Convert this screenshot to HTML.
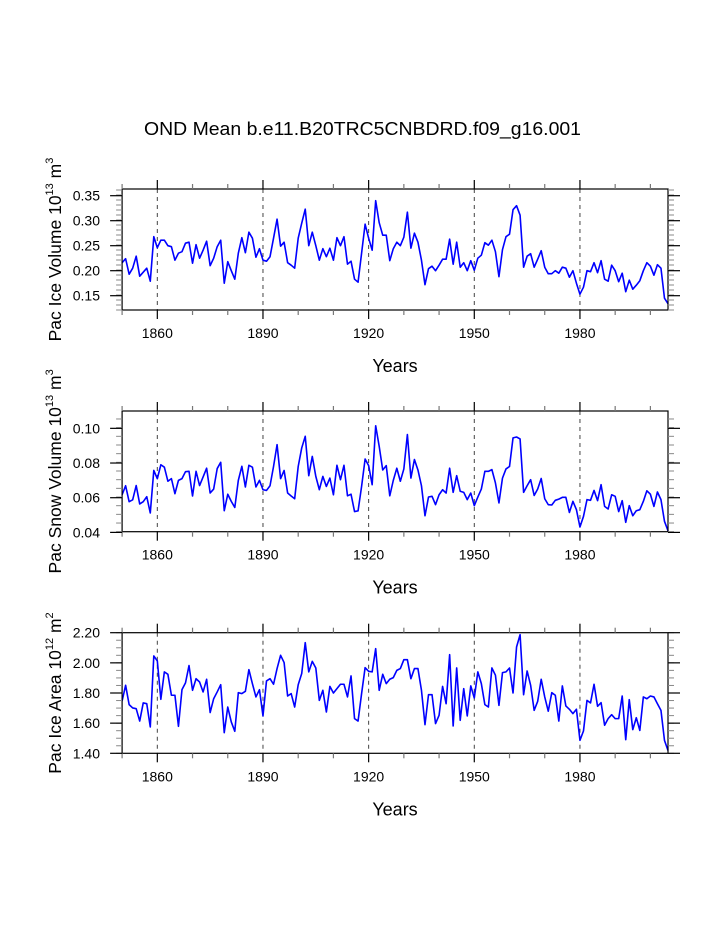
<!DOCTYPE html>
<html><head><meta charset="utf-8"><style>
html,body{margin:0;padding:0;background:#fff;}
svg{display:block;font-family:"Liberation Sans",Arial,sans-serif;}
</style></head><body>
<svg id="chart" width="723" height="935" viewBox="0 0 723 935" xmlns="http://www.w3.org/2000/svg">
<rect width="723" height="935" fill="#fff"/>
<text x="144" y="135" font-size="18.5" textLength="437" lengthAdjust="spacingAndGlyphs">OND Mean b.e11.B20TRC5CNBDRD.f09_g16.001</text>
</svg>
<script>
const startYear = 1850;
const iceVolume = [0.216,0.224,0.193,0.205,0.229,0.189,0.197,0.205,0.179,0.268,0.246,0.261,0.261,0.25,0.248,0.221,0.235,0.238,0.255,0.257,0.215,0.252,0.225,0.241,0.259,0.21,0.225,0.248,0.261,0.175,0.218,0.2,0.183,0.235,0.266,0.236,0.277,0.265,0.227,0.244,0.221,0.219,0.228,0.265,0.303,0.249,0.257,0.216,0.211,0.205,0.265,0.295,0.323,0.25,0.277,0.25,0.221,0.244,0.228,0.245,0.221,0.266,0.25,0.268,0.213,0.219,0.183,0.177,0.235,0.293,0.265,0.241,0.340,0.296,0.271,0.271,0.22,0.244,0.257,0.25,0.267,0.317,0.245,0.275,0.257,0.221,0.172,0.204,0.209,0.2,0.211,0.223,0.223,0.263,0.213,0.257,0.207,0.216,0.2,0.22,0.201,0.225,0.231,0.256,0.251,0.261,0.238,0.188,0.242,0.268,0.273,0.322,0.33,0.311,0.207,0.229,0.234,0.207,0.223,0.24,0.207,0.194,0.194,0.2,0.195,0.207,0.205,0.187,0.2,0.175,0.153,0.167,0.2,0.198,0.216,0.196,0.22,0.183,0.179,0.211,0.2,0.178,0.195,0.158,0.181,0.163,0.171,0.18,0.2,0.216,0.209,0.191,0.212,0.205,0.145,0.134];
const snowVolume = [0.0617,0.0669,0.0577,0.0588,0.067,0.0564,0.0577,0.0606,0.0512,0.0757,0.071,0.079,0.0776,0.0695,0.071,0.0623,0.07,0.071,0.075,0.0752,0.061,0.0752,0.067,0.072,0.077,0.0627,0.065,0.0768,0.0804,0.0525,0.062,0.0579,0.0544,0.07,0.0781,0.0662,0.0787,0.0776,0.0662,0.07,0.0646,0.0642,0.0669,0.078,0.0906,0.071,0.0757,0.0627,0.061,0.0594,0.078,0.0887,0.0954,0.0727,0.0838,0.0723,0.0646,0.0723,0.0665,0.0713,0.0617,0.0787,0.0704,0.0787,0.0611,0.062,0.052,0.0524,0.0665,0.0823,0.0785,0.0675,0.1015,0.0896,0.076,0.0785,0.0611,0.07,0.077,0.0695,0.0766,0.0964,0.0713,0.082,0.076,0.0669,0.0496,0.0604,0.0608,0.056,0.0617,0.0646,0.0627,0.077,0.0631,0.0727,0.0637,0.0631,0.0589,0.0627,0.0554,0.0604,0.065,0.0752,0.0752,0.0762,0.0685,0.057,0.0713,0.0766,0.078,0.0945,0.095,0.0939,0.0631,0.0669,0.0704,0.0613,0.065,0.0711,0.0594,0.056,0.0558,0.0585,0.0592,0.0602,0.0602,0.0515,0.0579,0.0531,0.0431,0.0492,0.0589,0.0585,0.0642,0.0583,0.0675,0.055,0.0535,0.0617,0.0608,0.052,0.0583,0.0458,0.0554,0.0496,0.0525,0.0531,0.0579,0.064,0.062,0.055,0.0633,0.0589,0.0464,0.041];
const iceArea = [1.747,1.851,1.723,1.701,1.696,1.614,1.734,1.729,1.575,2.046,2.013,1.758,1.94,1.924,1.785,1.785,1.579,1.822,1.867,1.982,1.818,1.895,1.873,1.807,1.891,1.67,1.762,1.807,1.855,1.537,1.707,1.608,1.546,1.802,1.796,1.811,1.955,1.862,1.774,1.822,1.648,1.88,1.895,1.858,1.962,2.05,2.002,1.78,1.796,1.707,1.855,1.929,2.134,1.94,2.01,1.966,1.751,1.818,1.674,1.844,1.8,1.829,1.858,1.858,1.774,1.913,1.63,1.614,1.796,1.968,1.944,1.94,2.094,1.818,1.924,1.862,1.891,1.902,1.95,1.962,2.021,2.021,1.895,1.962,1.962,1.818,1.59,1.789,1.789,1.597,1.652,1.844,1.729,2.054,1.581,1.966,1.619,1.829,1.648,1.847,1.767,1.94,1.862,1.723,1.707,1.966,1.918,1.718,1.935,1.94,1.966,1.8,2.105,2.187,1.789,1.946,1.851,1.685,1.745,1.891,1.774,1.679,1.802,1.785,1.614,1.847,1.714,1.692,1.663,1.692,1.486,1.548,1.751,1.734,1.858,1.712,1.736,1.586,1.63,1.656,1.63,1.63,1.78,1.49,1.756,1.557,1.636,1.552,1.774,1.762,1.78,1.774,1.729,1.685,1.486,1.419];
const xTickLabels = [1860,1890,1920,1950,1980];
const iceVolTicks = ["0.15","0.20","0.25","0.30","0.35"];
const snowTicks = ["0.04","0.06","0.08","0.10"];
const areaTicks = ["1.40","1.60","1.80","2.00","2.20"];

const NS = "http://www.w3.org/2000/svg";
const svg = document.getElementById('chart');
const X0 = 122.1, X1 = 668, Y0 = 1850, Y1 = 2005;
function xs(yr){ return X0 + (yr - Y0) * (X1 - X0) / (Y1 - Y0); }
function mk(tag, attrs, parent){ const e = document.createElementNS(NS, tag); for (const k in attrs) e.setAttribute(k, attrs[k]); (parent||svg).appendChild(e); return e; }

function panel(cfg){
  const g = mk('g', {});
  
  
  const top = cfg.top, bot = cfg.bot;
  const ys = v => top + (cfg.vmax - v) * (bot - top) / (cfg.vmax - cfg.vmin);
  // dashed gridlines
  xTickLabels.forEach(yr => {
    const l = mk('line', {x1: xs(yr), x2: xs(yr), y1: top, y2: bot, stroke: '#444', 'stroke-width': 1, 'stroke-dasharray': '4,4'}, g);
    
    
  });
  // series
  const pts = cfg.data.map((v, i) => xs(startYear + i).toFixed(2) + ',' + ys(v).toFixed(2)).join(' ');
  const line = mk('polyline', {points: pts, fill: 'none', stroke: '#0000ff', 'stroke-width': 1.6, 'stroke-linejoin': 'round'}, g);
  
  
  // frame
  const fr = mk('rect', {x: X0, y: top, width: X1 - X0, height: bot - top, fill: 'none', stroke: '#000', 'stroke-width': 1.2}, g);
  
  
  // x ticks
  for (let yr = 1850; yr <= 2000; yr += 10) {
    const major = (yr - 1860) % 30 === 0;
    const len = major ? 9 : 5;
    mk('line', {x1: xs(yr), x2: xs(yr), y1: top, y2: top - len, stroke: major ? '#000' : '#777', 'stroke-width': 1.2}, g);
    mk('line', {x1: xs(yr), x2: xs(yr), y1: bot, y2: bot + len, stroke: major ? '#000' : '#777', 'stroke-width': 1.2}, g);
  }
  xTickLabels.forEach(yr => {
    const t = mk('text', {x: xs(yr), y: bot + 28, 'font-size': 14, 'text-anchor': 'middle'}, g);
    t.textContent = yr;
    
    
  });
  // y minor ticks
  const n = Math.round((cfg.vmax - cfg.vmin) / cfg.minor);
  for (let k = 0; k <= n; k++) {
    const v = cfg.vmin + k * cfg.minor;
    const y = ys(v);
    if (y < top - 0.5 || y > bot + 0.5) continue;
    mk('line', {x1: X0, x2: X0 - 6, y1: y, y2: y, stroke: '#888', 'stroke-width': 1}, g);
    mk('line', {x1: X1, x2: X1 + 6, y1: y, y2: y, stroke: '#888', 'stroke-width': 1}, g);
  }
  cfg.ticks.forEach(s => {
    const y = ys(parseFloat(s));
    mk('line', {x1: X0, x2: X0 - 12, y1: y, y2: y, stroke: '#000', 'stroke-width': 1.2}, g);
    mk('line', {x1: X1, x2: X1 + 12, y1: y, y2: y, stroke: '#000', 'stroke-width': 1.2}, g);
    const t = mk('text', {x: 100, y: y + 5, 'font-size': 14, 'text-anchor': 'end'}, g);
    t.textContent = s;
    
    
  });
  // x title
  const xt = mk('text', {x: 395, y: bot + 62, 'font-size': 18, 'text-anchor': 'middle'}, g);
  xt.textContent = 'Years';
  
  
  // y title
  const cy = (top + bot) / 2;
  const yt = mk('text', {x: 0, y: 0, 'font-size': 17.5, 'text-anchor': 'middle', transform: 'translate(61,' + cy + ') rotate(-90)'}, g);
  
  
  const a = mk('tspan', {}, yt); a.textContent = cfg.label + ' 10';
  const b = mk('tspan', {'font-size': 11, dy: -8}, yt); b.textContent = cfg.exp;
  const c = mk('tspan', {dy: 8}, yt); c.textContent = ' m';
  const d = mk('tspan', {'font-size': 11, dy: -8}, yt); d.textContent = cfg.unitExp;
}
panel({name: 'ice-volume', top: 189, bot: 310, vmin: 0.1214, vmax: 0.3634, minor: 0.01, data: iceVolume, ticks: iceVolTicks, label: 'Pac Ice Volume', exp: '13', unitExp: '3'});
panel({name: 'snow-volume', top: 411, bot: 531.7, vmin: 0.0404, vmax: 0.1100, minor: 0.005, data: snowVolume, ticks: snowTicks, label: 'Pac Snow Volume', exp: '13', unitExp: '3'});
panel({name: 'ice-area', top: 632.7, bot: 753.3, vmin: 1.40, vmax: 2.20, minor: 0.05, data: iceArea, ticks: areaTicks, label: 'Pac Ice Area', exp: '12', unitExp: '2'});
</script>
</body></html>
